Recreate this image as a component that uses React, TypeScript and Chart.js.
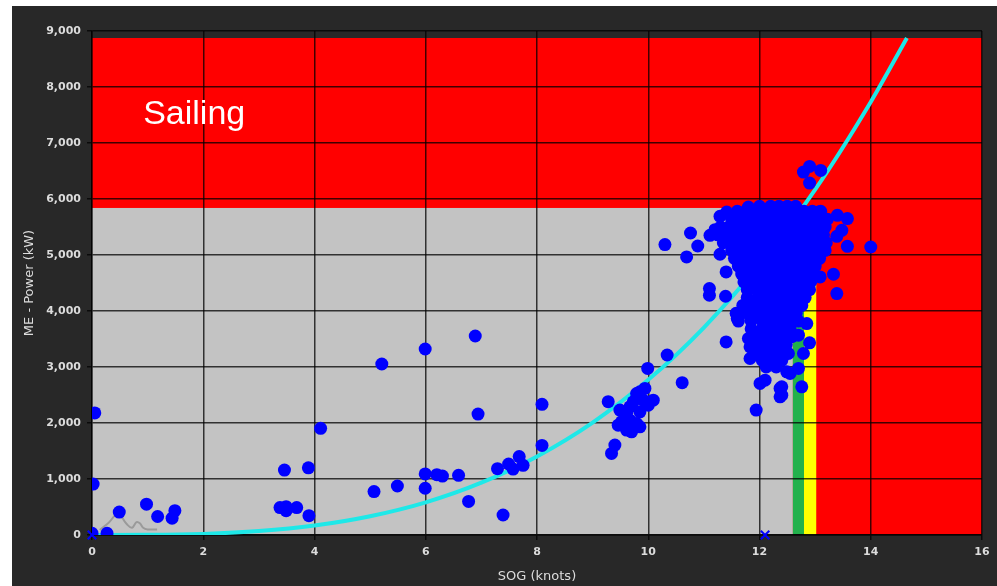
import React, { useEffect, useRef } from "react";
import { Chart, registerables } from "chart.js";

Chart.register(...registerables);

// Speed over ground (knots) / main engine power (kW) readings
const scatteredSog = [0.05, 0.02, 0.0, 0.27, 0.49, 0.98, 1.18, 1.44, 1.49, 3.38, 3.46, 3.49, 3.49, 3.68, 3.89, 3.9, 4.11, 5.07, 5.21, 5.49, 5.99, 5.99, 5.99, 6.2, 6.3, 6.59, 6.77, 6.89, 6.94, 7.29, 7.39, 7.49, 7.57, 7.68, 7.75, 8.09, 8.09];
const scatteredPower = [2180, 910, 30, 30, 410, 550, 330, 300, 435, 490, 1160, 505, 435, 490, 1200, 345, 1905, 775, 3054, 875, 3321, 1090, 835, 1077, 1053, 1066, 600, 3554, 2160, 1185, 357, 1268, 1178, 1400, 1245, 2333, 1600];

const transitSog = [9.28, 9.34, 9.4, 9.46, 9.52, 9.49, 9.56, 9.61, 9.61, 9.67, 9.67, 9.7, 9.73, 9.79, 9.79, 9.85, 9.85, 9.85, 9.91, 9.94, 9.99, 10.0, 10.09, 10.34, 10.61];
const transitPower = [2380, 1457, 1605, 1962, 2021, 2230, 1962, 2171, 1873, 2289, 2051, 1843, 2378, 2527, 1992, 2557, 2200, 1932, 2408, 2617, 2975, 2319, 2408, 3214, 2720];

const fringeSog = [10.3, 10.76, 10.89, 10.69, 11.29, 11.4, 11.11, 11.2, 11.29, 11.41, 11.8, 11.1, 11.1, 11.39, 11.4, 11.6, 11.8, 11.83, 12.01, 12.1, 12.37, 12.37, 12.49, 11.95, 12.19, 12.28, 12.46, 11.83, 11.94, 13.09, 13.33, 13.39, 12.85, 12.7, 12.9, 12.79, 12.52, 12.7, 12.55, 12.76, 12.4, 12.4, 12.43, 12.79, 12.9, 13.1, 12.9, 13.58, 14.0, 13.58, 13.4, 13.48, 13.39, 13.06];
const fringePower = [5186, 5393, 5161, 4965, 5013, 4697, 5351, 5452, 5690, 5768, 5857, 4400, 4281, 4263, 3448, 3866, 3509, 3152, 2706, 2765, 2617, 2467, 2913, 3241, 3122, 3360, 3270, 3360, 2230, 4608, 4656, 4311, 3776, 3568, 3431, 3241, 3241, 2974, 2884, 2646, 2646, 2497, 3627, 6481, 6582, 6511, 6285, 5155, 5143, 5650, 5708, 5441, 5334, 5768];

// Dense service-speed cluster, listed band by band
const clusterBandPower = [5870, 5780, 5640, 5500, 5360, 5220, 5080, 4940, 4800, 4660, 4520, 4380, 4240, 4100, 3960, 3820, 3680, 3540, 3400, 3260, 3120, 3000];
const clusterBandSog = [
  [12.0, 12.2, 12.35, 12.5, 12.65],
  [11.6, 11.75, 11.9, 12.1, 12.3, 12.45, 12.6, 12.8, 12.95, 13.1],
  [11.5, 11.7, 11.88, 12.05, 12.22, 12.4, 12.57, 12.75, 12.92, 13.1, 13.22],
  [11.3, 11.45, 11.62, 11.8, 11.98, 12.15, 12.32, 12.5, 12.68, 12.85, 13.02, 13.18],
  [11.25, 11.42, 11.6, 11.78, 11.95, 12.12, 12.3, 12.48, 12.65, 12.82, 13.0, 13.15],
  [11.35, 11.52, 11.7, 11.88, 12.05, 12.22, 12.4, 12.58, 12.75, 12.92, 13.08, 13.2],
  [11.5, 11.68, 11.85, 12.02, 12.2, 12.38, 12.55, 12.72, 12.9, 13.05, 13.18],
  [11.55, 11.72, 11.9, 12.08, 12.25, 12.42, 12.6, 12.78, 12.95, 13.08],
  [11.62, 11.8, 11.98, 12.15, 12.32, 12.5, 12.68, 12.85, 13.0],
  [11.68, 11.85, 12.02, 12.2, 12.38, 12.55, 12.72, 12.88, 12.98],
  [11.72, 11.9, 12.08, 12.25, 12.42, 12.6, 12.78, 12.92],
  [11.78, 11.95, 12.12, 12.3, 12.48, 12.65, 12.8, 12.9],
  [11.78, 11.98, 12.15, 12.32, 12.5, 12.68, 12.82],
  [11.7, 11.9, 12.1, 12.28, 12.45, 12.62, 12.76],
  [11.58, 11.78, 11.98, 12.15, 12.32, 12.5, 12.66],
  [11.62, 11.85, 12.05, 12.22, 12.4, 12.56, 12.7],
  [11.85, 12.05, 12.22, 12.4, 12.55],
  [11.9, 12.1, 12.28, 12.45, 12.58],
  [11.98, 12.15, 12.32, 12.48],
  [12.02, 12.2, 12.38],
  [12.05, 12.25, 12.4],
  [12.12, 12.3],
];

// Engine power curve
const curveSog = [0, 1, 2, 3, 4, 5, 6, 7, 8, 9, 10, 11, 12, 13, 14, 14.65];
const curvePower = [0, 2.5, 20, 70, 169, 335, 583, 934, 1403, 2008, 2771, 3705, 4834, 6167, 7733, 8875];

// Small reference trace near the origin
const traceSog = [0.14, 0.3, 0.47, 0.62, 0.72, 0.8, 0.86, 0.92, 1.0, 1.17];
const tracePower = [90, 220, 380, 200, 130, 230, 210, 130, 100, 100];

// Cross markers on the speed axis
const markerSog = [0, 12.1];
const markerPower = [0, 0];

// Operating zones: sog range, power range, colour
const zoneSog = [[0, 16], [0, 12.6], [12.6, 12.8], [12.8, 13.02]];
const zonePower = [[0, 8875], [0, 5840], [0, 4500], [0, 4500]];
const zoneColors = ["#ff0000", "#c3c3c3", "#22b14c", "#ffff00"];

const xTicks = [0, 2, 4, 6, 8, 10, 12, 14, 16];

const pairs = (xs: number[], ys: number[]) => xs.map((v, i) => ({ x: v, y: ys[i] }));

const clusterPoints = clusterBandSog.flatMap((row, i) => row.map((v) => ({ x: v, y: clusterBandPower[i] })));

const zonesPlugin = {
  id: "zones",
  beforeDraw(chart: any) {
    const { ctx, scales } = chart;
    const x = scales.x;
    const y = scales.y;
    ctx.save();
    ctx.fillStyle = "#282828";
    ctx.fillRect(0, 0, chart.width, chart.height);
    zoneSog.forEach((s, i) => {
      const l = x.getPixelForValue(s[0]);
      const r = x.getPixelForValue(s[1]);
      const b = y.getPixelForValue(zonePower[i][0]);
      const t = y.getPixelForValue(zonePower[i][1]);
      ctx.fillStyle = zoneColors[i];
      ctx.fillRect(l, t, r - l, b - t);
    });
    ctx.restore();
  },
  beforeDatasetsDraw(chart: any) {
    const { ctx, scales } = chart;
    ctx.save();
    ctx.fillStyle = "#ffffff";
    ctx.font = "34px 'Liberation Sans', Arial, sans-serif";
    ctx.textBaseline = "alphabetic";
    ctx.textAlign = "left";
    ctx.fillText("Sailing", scales.x.getPixelForValue(0.92), scales.y.getPixelForValue(7340));
    ctx.restore();
  },
};

export default function App() {
  const ref = useRef<HTMLCanvasElement>(null);

  useEffect(() => {
    if (!ref.current) return;
    const tickFont = { family: "'DejaVu Sans', sans-serif", size: 11, weight: "bold" as const };
    const chart = new Chart(ref.current, {
      type: "scatter",
      data: {
        datasets: [
          {
            type: "scatter",
            label: "Markers",
            data: pairs(markerSog, markerPower),
            pointStyle: "crossRot",
            pointRadius: 6,
            borderColor: "#0000ff",
            backgroundColor: "#0000ff",
            borderWidth: 2,
            clip: false,
            order: 0,
          },
          {
            type: "scatter",
            label: "ME power",
            data: [
              ...pairs(scatteredSog, scatteredPower),
              ...pairs(transitSog, transitPower),
              ...pairs(fringeSog, fringePower),
              ...clusterPoints,
            ],
            pointRadius: 6.5,
            pointBackgroundColor: "#0000ff",
            pointBorderWidth: 0,
            borderColor: "#0000ff",
            order: 1,
          },
          {
            type: "line",
            label: "Trace",
            data: pairs(traceSog, tracePower),
            borderColor: "#9a9a9a",
            borderWidth: 2,
            pointRadius: 0,
            tension: 0.4,
            order: 2,
          },
          {
            type: "line",
            label: "Power curve",
            data: pairs(curveSog, curvePower),
            borderColor: "#1ee8e8",
            borderWidth: 4,
            pointRadius: 0,
            cubicInterpolationMode: "monotone",
            order: 3,
          },
        ],
      },
      options: {
        responsive: false,
        animation: false,
        events: [],
        layout: { padding: { left: 0, right: 15, top: 25, bottom: 0 } },
        plugins: { legend: { display: false }, tooltip: { enabled: false } },
        scales: {
          x: {
            type: "linear",
            min: 0,
            max: 16,
            afterBuildTicks: (scale: any) => {
              scale.ticks = xTicks.map((v) => ({ value: v }));
            },
            afterFit: (scale: any) => {
              scale.height = 51;
            },
            grid: { color: "rgba(0,0,0,0.75)", lineWidth: 1.5, tickLength: 5, tickColor: "rgba(0,0,0,0.75)" },
            border: { color: "rgba(0,0,0,0.75)", width: 1.5 },
            ticks: { color: "#dcdcdc", font: tickFont, padding: 6, maxRotation: 0 },
            title: {
              display: true,
              text: "SOG (knots)",
              color: "#dcdcdc",
              font: { family: "'DejaVu Sans', sans-serif", size: 13 },
              padding: { top: 0, bottom: 2 },
            },
          },
          y: {
            type: "linear",
            min: 0,
            max: 9000,
            afterBuildTicks: (scale: any) => {
              const t = [];
              for (let v = 0; v <= 9000; v += 1000) t.push({ value: v });
              scale.ticks = t;
            },
            afterFit: (scale: any) => {
              scale.width = 80;
            },
            grid: { color: "rgba(0,0,0,0.75)", lineWidth: 1.5, tickLength: 5, tickColor: "rgba(0,0,0,0.75)" },
            border: { color: "rgba(0,0,0,0.75)", width: 1.5 },
            ticks: {
              color: "#dcdcdc",
              font: tickFont,
              padding: 6,
              callback: (v: any) => Number(v).toLocaleString("en-US"),
            },
            title: {
              display: true,
              text: "ME - Power (kW)",
              color: "#dcdcdc",
              font: { family: "'DejaVu Sans', sans-serif", size: 13 },
              padding: { top: 10, bottom: 0 },
            },
          },
        },
      },
      plugins: [zonesPlugin],
    } as any);
    return () => chart.destroy();
  }, []);

  return (
    <div style={{ position: "fixed", left: 12, top: 6, width: 985, height: 580, background: "#282828" }}>
      <canvas ref={ref} width={985} height={580} style={{ display: "block" }} />
    </div>
  );
}
